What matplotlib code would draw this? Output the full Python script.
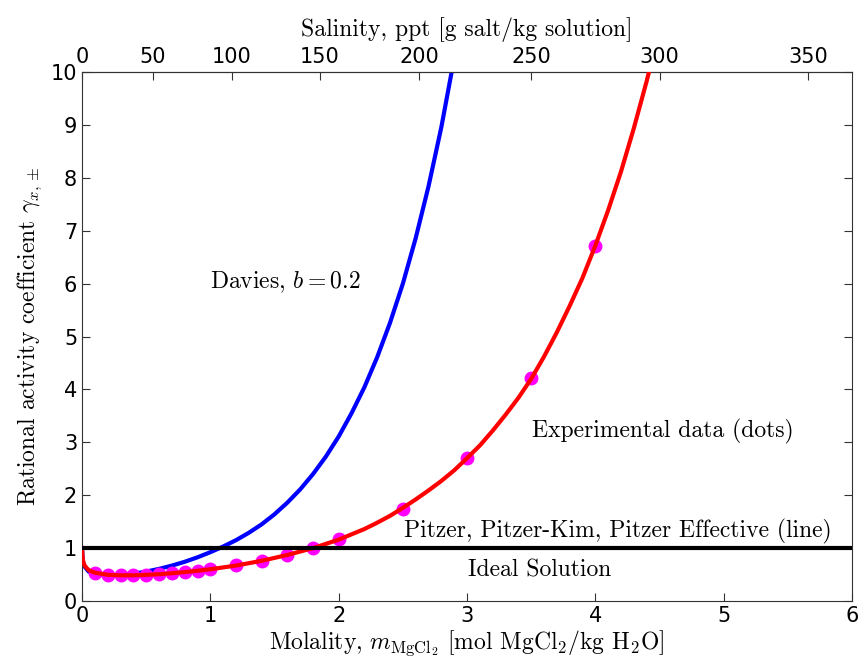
import numpy as np
import matplotlib
matplotlib.use("Agg")
import matplotlib.pyplot as plt

plt.rcParams['mathtext.fontset'] = 'cm'

# molar mass of MgCl2, g/mol (for the salinity axis)
M_SALT = 95.211

# Davies, b = 0.2
m_davies = [0.0, 0.005, 0.01, 0.02, 0.05, 0.1, 0.2, 0.3, 0.4, 0.5, 0.6, 0.7, 0.8, 0.9,
            1.0, 1.1, 1.2, 1.3, 1.4, 1.5, 1.6, 1.7, 1.8, 1.9, 2.0, 2.1, 2.2, 2.3,
            2.4, 2.5, 2.6, 2.7, 2.8, 2.9, 3.0]
g_davies = [1.0, 0.78, 0.72, 0.65, 0.56, 0.505, 0.478, 0.487, 0.515, 0.556, 0.607, 0.669,
            0.741, 0.826, 0.923, 1.03, 1.15, 1.29, 1.45, 1.64, 1.86, 2.11, 2.40,
            2.73, 3.11, 3.55, 4.04, 4.61, 5.26, 6.00, 6.86, 7.84, 8.96, 10.26, 11.7]

# Pitzer model line
m_pitzer = [0.0, 0.005, 0.01, 0.02, 0.05, 0.1, 0.2, 0.3, 0.4, 0.5, 0.6, 0.7, 0.8, 0.9,
            1.0, 1.2, 1.4, 1.6, 1.8, 2.0, 2.1, 2.2, 2.3, 2.4, 2.5, 2.6, 2.7, 2.8, 2.9,
            3.0, 3.1, 3.2, 3.3, 3.4, 3.5, 3.6, 3.7, 3.8, 3.9, 4.0, 4.1, 4.2, 4.3, 4.4, 4.5]
g_pitzer = [1.0, 0.80, 0.74, 0.67, 0.585, 0.535, 0.495, 0.485, 0.486, 0.494, 0.507, 0.525,
            0.546, 0.571, 0.60, 0.67, 0.76, 0.87, 1.0, 1.16, 1.26, 1.36, 1.48, 1.61, 1.76,
            1.92, 2.09, 2.27, 2.47, 2.70, 2.94, 3.22, 3.52, 3.84, 4.20, 4.62, 5.08, 5.58,
            6.11, 6.72, 7.39, 8.12, 8.94, 9.83, 10.8]

# experimental data (dots)
m_exp = [0.1, 0.2, 0.3, 0.4, 0.5, 0.6, 0.7, 0.8, 0.9, 1.0, 1.2, 1.4, 1.6, 1.8, 2.0,
         2.5, 3.0, 3.5, 4.0]
g_exp = [0.532, 0.494, 0.485, 0.485, 0.494, 0.507, 0.525, 0.545, 0.571, 0.601, 0.672,
         0.76, 0.87, 1.0, 1.17, 1.74, 2.70, 4.22, 6.72]

sal_ticks = [0, 50, 100, 150, 200, 250, 300, 350]

def to_sal(m):
    m = np.asarray(m, dtype=float)
    return 1000 * m * M_SALT / (1000 + m * M_SALT)

def to_mol(s):
    s = np.asarray(s, dtype=float)
    return 1000 * s / (M_SALT * (1000 - s))

fig = plt.figure(figsize=(8.59, 6.6), dpi=100)
ax = fig.add_axes([0.0955, 0.0894, 0.8964, 0.8015])

ax.plot(m_davies, g_davies, color='blue', lw=3, zorder=2)
ax.plot(m_exp, g_exp, 'o', color='magenta', ms=9, zorder=3)
ax.plot(m_pitzer, g_pitzer, color='red', lw=3, zorder=4)
ax.axhline(1.0, color='black', lw=3, zorder=5)

for s in ax.spines.values():
    s.set_color('#333333')

ax.set_xlim(0, 6)
ax.set_ylim(0, 10)
ax.set_yticks(range(0, 11))
ax.tick_params(direction='in', labelsize=15, length=6, right=True, top=False,
               color='#333333')

txt = dict(family='cmr10', fontsize=17)
ax.text(1.0, 6.03, r'Davies, $b=0.2$', va='center', **txt)
ax.text(3.51, 3.21, 'Experimental data (dots)', va='center', **txt)
ax.text(2.51, 1.32, 'Pitzer, Pitzer-Kim, Pitzer Effective (line)', va='center', **txt)
ax.text(3.01, 0.57, 'Ideal Solution', va='center', **txt)

ax.set_xlabel(r'Molality, $m_{\mathrm{MgCl}_2}$ [mol MgCl$_2$/kg H$_2$O]', labelpad=2, **txt)
ax.set_ylabel(r'Rational activity coefficient $\gamma_{x,\pm}$', labelpad=5, **txt)

secax = ax.secondary_xaxis('top', functions=(to_sal, to_mol))
secax.set_xticks(sal_ticks)
secax.tick_params(direction='in', labelsize=15, length=6, color='#333333')
secax.spines['top'].set_color('#333333')
secax.set_xlabel('Salinity, ppt [g salt/kg solution]', labelpad=8, **txt)

fig.savefig('out.png', dpi=100)
